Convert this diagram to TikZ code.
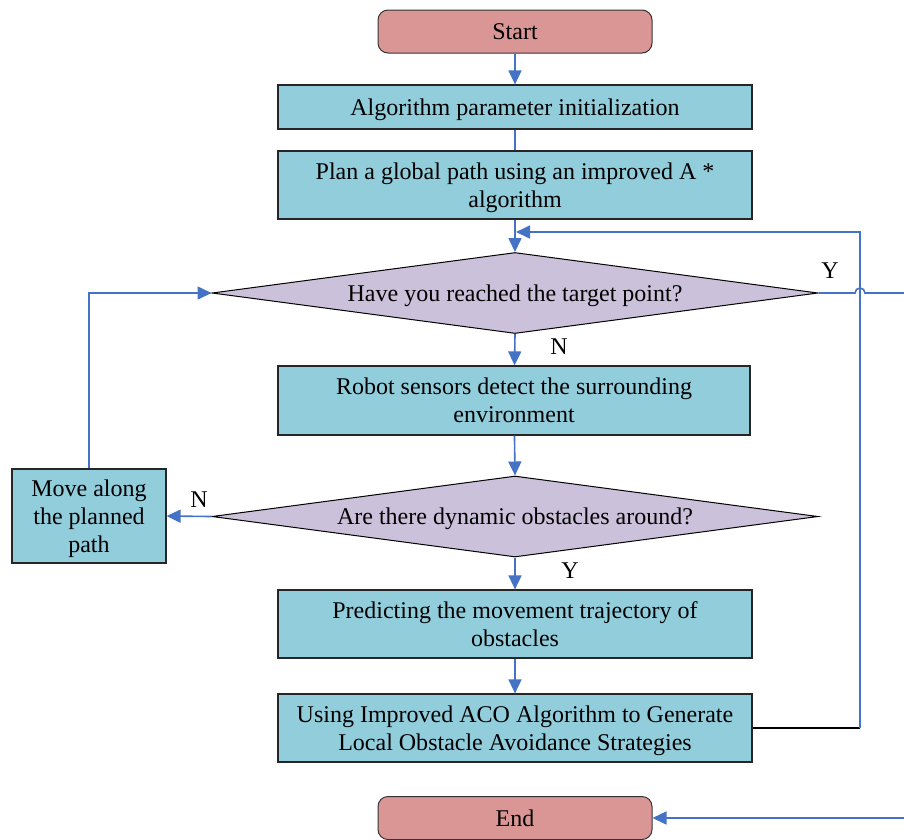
\documentclass[tikz,border=0pt]{standalone}
\usepackage{fontspec}
\setmainfont{Liberation Serif}
\usetikzlibrary{shapes.geometric,arrows.meta}
\definecolor{termfill}{RGB}{217,150,148}
\definecolor{procfill}{RGB}{146,205,220}
\definecolor{decfill}{RGB}{204,193,218}
\definecolor{flow}{RGB}{68,114,196}

\begin{document}
\begin{tikzpicture}[x=1pt,y=-1pt,
  font=\fontsize{24}{28}\selectfont,
  terminal/.style={draw=black!80, fill=termfill, rounded corners=10pt,
    minimum width=274pt, minimum height=43pt, line width=1pt},
  process/.style={draw=black!85, fill=procfill, minimum width=474pt,
    align=center, line width=1.2pt, inner sep=0pt, text depth=0pt},
  decision/.style={diamond, aspect=7.48, draw=black, fill=decfill,
    minimum width=606pt, minimum height=81pt, inner sep=0pt, line width=1pt,
    text depth=0pt},
  flowline/.style={draw=flow, line width=1.6pt},
  arr/.style={flowline, -{Triangle[length=14pt,width=13pt]}},
  lbl/.style={inner sep=0pt}]

\useasboundingbox (0,0) rectangle (904,839);

% main column
\node[terminal] (start) at (515,31.5) {Start};
\node[process, minimum height=44pt] (init) at (515,107) {Algorithm parameter initialization};
\node[process, minimum height=68pt] (plan) at (515,185) {Plan a global path using an improved A *\\algorithm};
\node[decision] (d1) at (515,293) {Have you reached the target point?};
\node[process, minimum width=472pt, minimum height=69pt] (robot) at (514,400.5) {Robot sensors detect the surrounding\\environment};
\node[decision] (d2) at (515,516.5) {Are there dynamic obstacles around?};
\node[process, minimum width=154pt, minimum height=94pt] (move) at (89,516) {Move along\\the planned\\path};
\node[process, minimum height=68pt] (predict) at (515,624) {Predicting the movement trajectory of\\obstacles};
\node[process, minimum height=68pt] (using) at (515,728) {Using Improved ACO Algorithm to Generate\\Local Obstacle Avoidance Strategies};
\node[terminal] (end) at (515,818) {End};

% branch labels
\node[lbl] (n1) at (559,347) {N};
\node[lbl] (n2) at (199,500) {N};
\node[lbl] (y1) at (570,571) {Y};
\node[lbl] (y2) at (830,271) {Y};

% helper points of the loops
\coordinate (loopR) at (860,728);
\coordinate (loopTop) at (860,232);
\coordinate (loopIn) at (516,232);
\coordinate (hopL) at (855,293);
\coordinate (exitTop) at (912,293);
\coordinate (exitBot) at (912,818);

% straight flow
\draw[arr] (start) -- (init);
\draw[flowline] (init) -- (plan);
\draw[arr] (plan) -- (d1);
\draw[arr] (d1.south) -- (robot);
\draw[arr] (robot) -- (d2.north);
\draw[arr] (d2.south) -- (predict);
\draw[arr] (predict) -- (using);

% "no obstacle" branch
\draw[arr] (d2.west) -- (move.east);
\draw[arr] (move.north) |- (d1.west);

% return loop after local avoidance
\draw[black, line width=1.4pt] (using.east) -- (loopR);
\draw[arr] (loopR) -- (loopTop) -- (loopIn);

% target reached, with a hop over the return loop
\draw[arr] (d1.east) -- (hopL) arc[start angle=180, end angle=0, radius=5pt]
  -- (exitTop) -- (exitBot) -- (end.east);
\end{tikzpicture}
\end{document}
